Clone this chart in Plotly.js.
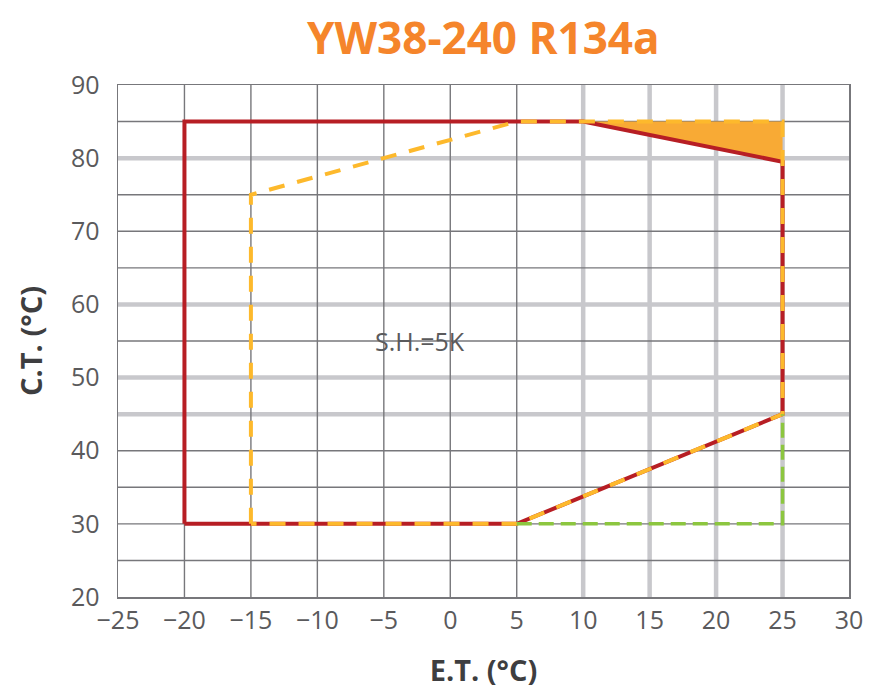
<!DOCTYPE html>
<html>
<head>
<meta charset="utf-8">
<script src="https://cdn.plot.ly/plotly-3.0.1.min.js"></script>
<style>html,body{margin:0;padding:0;background:#fff;}#chart{width:874px;height:693px;}</style>
</head>
<body>
<div id="chart"></div>
<script>
// Operating envelope data (E.T. °C, C.T. °C)
var redX = [-20, -20, 10, 25, 25, 5, -20];
var redY = [30, 85, 85, 79.5, 45, 30, 30];
var yellowX = [-15, -15, 5, 25, 25, 5, -15];
var yellowY = [30, 75, 85, 85, 45, 30, 30];
var greenX = [5, 25, 25];
var greenY = [30, 30, 45];
var fillX = [10, 25, 25, 10];
var fillY = [85, 85, 79.5, 85];

var xTicks = [-25, -20, -15, -10, -5, 0, 5, 10, 15, 20, 25, 30];
var yTicks = [20, 30, 40, 50, 60, 70, 80, 90];
var thinGridX = [-20, -15, -10, -5, 0, 5];
var thickGridX = [10, 15, 20, 25];
var thinGridY = [25, 30, 35, 40, 55, 65, 70, 75, 85];
var thickGridY = [45, 50, 60, 80];

var noteText = 'S.H.=5K';
var noteX = -2.3, noteY = 55;

var thin = {color: '#77777b', width: 1.4};
var thick = {color: '#c8c8cc', width: 4.5};
var shapes = [];
thickGridX.forEach(function (v) { shapes.push({type: 'line', xref: 'x', yref: 'paper', x0: v, x1: v, y0: 0, y1: 1, line: thick, layer: 'below'}); });
thickGridY.forEach(function (v) { shapes.push({type: 'line', xref: 'paper', yref: 'y', x0: 0, x1: 1, y0: v, y1: v, line: thick, layer: 'below'}); });
thinGridX.forEach(function (v) { shapes.push({type: 'line', xref: 'x', yref: 'paper', x0: v, x1: v, y0: 0, y1: 1, line: thin, layer: 'below'}); });
thinGridY.forEach(function (v) { shapes.push({type: 'line', xref: 'paper', yref: 'y', x0: 0, x1: 1, y0: v, y1: v, line: thin, layer: 'below'}); });

var traces = [
  {x: fillX, y: fillY, mode: 'lines', fill: 'toself', fillcolor: '#f8aa35', line: {width: 0}, hoverinfo: 'skip', showlegend: false},
  {x: redX, y: redY, mode: 'lines', line: {color: '#b71e24', width: 4}, showlegend: false},
  {x: yellowX, y: yellowY, mode: 'lines', line: {color: '#fdb92c', width: 4, dash: '16px,13px'}, showlegend: false},
  {x: greenX, y: greenY, mode: 'lines', line: {color: '#8cc63f', width: 3.5, dash: '15px,7px'}, showlegend: false}
];

var tickFont = {family: 'Open Sans, sans-serif', size: 25, color: '#5a5a5c'};
var axTitleFont = {family: 'Open Sans, sans-serif', size: 29, color: '#3e3e40', weight: 'bold'};

var layout = {
  width: 874, height: 693,
  margin: {l: 118, r: 25, t: 85, b: 96},
  paper_bgcolor: '#ffffff', plot_bgcolor: '#ffffff',
  title: {text: 'YW38-240 R134a', x: 0.553, xanchor: 'center', y: 0.945, yanchor: 'middle', yref: 'container',
          font: {family: 'Open Sans, sans-serif', size: 44, color: '#f5852b', weight: 'bold'}},
  xaxis: {range: [-25, 30], tickvals: xTicks, showgrid: false, zeroline: false,
          showline: true, mirror: true, linecolor: '#77777b', linewidth: 1.5,
          ticks: '', ticklabelstandoff: 0, tickfont: tickFont, automargin: false,
          title: {text: 'E.T. (°C)', font: axTitleFont, standoff: 26}},
  yaxis: {range: [20, 90], tickvals: yTicks, showgrid: false, zeroline: false,
          showline: true, mirror: true, linecolor: '#77777b', linewidth: 1.5,
          ticks: '', ticklabelstandoff: 12, tickfont: tickFont, automargin: false,
          title: {text: 'C.T. (°C)', font: axTitleFont, standoff: 20}},
  shapes: shapes,
  annotations: [{x: noteX, y: noteY, xref: 'x', yref: 'y', text: noteText, showarrow: false,
                 font: {family: 'Open Sans, sans-serif', size: 25, color: '#5a5a5c'}}]
};

Plotly.newPlot('chart', traces, layout, {displayModeBar: false, staticPlot: true});
</script>
</body>
</html>
